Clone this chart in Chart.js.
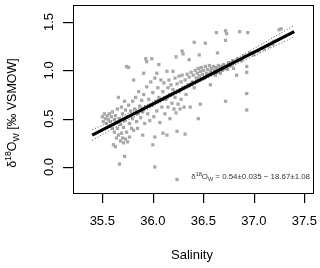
<!DOCTYPE html>
<html><head><meta charset="utf-8">
<script src="https://cdn.jsdelivr.net/npm/chart.js@4/dist/chart.umd.min.js"></script>
<style>html,body{margin:0;padding:0;background:#fff}#w{width:320px;height:268px}</style>
</head><body><div id="w"><canvas id="c" width="320" height="268"></canvas></div>
<script>
const salinity = [35.50,35.51,35.52,35.53,35.54,35.55,35.56,35.57,35.57,35.58,35.59,35.60,35.60,35.61,35.61,35.62,35.62,35.63,35.63,35.64,35.64,35.65,35.65,35.66,35.66,35.67,35.67,35.68,35.68,35.69,35.69,35.70,35.70,35.71,35.71,35.72,35.72,35.72,35.73,35.73,35.74,35.74,35.75,35.75,35.76,35.76,35.77,35.77,35.78,35.79,35.80,35.80,35.81,35.81,35.82,35.83,35.84,35.85,35.85,35.86,35.87,35.88,35.89,35.90,35.90,35.91,35.91,35.92,35.93,35.93,35.94,35.94,35.95,35.96,35.97,35.98,35.99,35.99,36.00,36.00,36.01,36.02,36.02,36.02,36.03,36.04,36.04,36.05,36.06,36.06,36.07,36.08,36.09,36.10,36.10,36.11,36.12,36.13,36.14,36.14,36.15,36.15,36.16,36.17,36.17,36.18,36.19,36.20,36.20,36.21,36.22,36.22,36.23,36.23,36.24,36.24,36.24,36.25,36.26,36.26,36.27,36.28,36.28,36.29,36.29,36.30,36.30,36.31,36.32,36.32,36.33,36.34,36.35,36.36,36.36,36.37,36.38,36.39,36.40,36.41,36.41,36.42,36.43,36.44,36.45,36.45,36.46,36.46,36.47,36.47,36.48,36.49,36.50,36.51,36.52,36.52,36.53,36.54,36.55,36.56,36.57,36.57,36.58,36.59,36.60,36.61,36.62,36.63,36.63,36.64,36.64,36.65,36.66,36.67,36.68,36.69,36.70,36.71,36.72,36.72,36.72,36.73,36.73,36.74,36.75,36.77,36.79,36.80,36.83,36.84,36.86,36.88,36.90,36.93,36.93,36.93,36.93,36.94,36.96,37.00,37.05,37.10,37.15,37.19,37.20,37.25,37.27];
const d18O = [0.52,0.47,0.55,0.50,0.45,0.53,0.49,0.42,0.55,0.47,0.52,0.40,0.57,0.44,0.23,0.49,0.36,0.21,0.53,0.30,0.46,0.60,0.40,0.33,0.72,0.03,0.50,0.27,0.44,0.35,0.62,0.30,0.55,0.25,0.41,0.11,0.68,0.48,0.29,0.59,0.36,1.04,0.26,0.52,0.64,1.03,0.31,0.45,0.58,0.40,0.68,0.50,0.90,0.38,0.60,0.72,0.47,0.55,0.40,0.78,0.63,0.51,0.69,0.33,0.57,0.97,0.75,0.45,1.12,0.62,1.09,0.83,0.55,0.70,0.48,0.88,1.12,0.64,0.23,0.77,0.52,0.00,0.31,0.92,0.68,0.97,0.58,0.82,1.06,0.72,0.46,0.90,0.62,0.78,0.35,0.87,0.55,0.70,0.99,0.33,0.82,0.62,0.90,0.75,0.50,0.85,0.66,0.99,0.80,0.60,0.92,0.72,1.14,0.56,0.37,-0.13,0.86,0.65,0.94,0.78,0.60,0.88,0.70,1.20,0.95,1.17,0.82,0.62,0.34,0.90,0.75,0.96,0.85,1.11,0.93,0.62,0.98,0.88,0.95,1.29,0.82,1.00,0.92,0.97,0.50,1.02,1.16,0.94,0.65,0.99,1.03,0.96,1.00,0.92,1.28,1.04,0.97,1.01,0.95,1.05,0.99,0.85,1.02,0.97,1.04,1.00,0.95,1.39,1.03,1.18,0.98,1.05,1.01,0.97,1.04,1.00,1.06,1.02,1.41,1.31,0.68,1.38,1.04,1.01,1.08,1.05,1.10,1.02,0.95,1.12,1.40,1.10,1.15,1.04,0.98,0.76,0.59,1.39,1.18,1.16,1.20,1.22,1.25,1.27,1.30,1.42,1.43];
const fitX = [35.4, 37.4];
const fitY = [0.33, 1.40];
const bandX = [35.4, 35.9, 36.4, 36.9, 37.4];
const upperY = [0.385, 0.625, 0.885, 1.165, 1.465];
const lowerY = [0.275, 0.570, 0.845, 1.100, 1.345];
const xTicks = [35.5, 36.0, 36.5, 37.0, 37.5];
const yTicks = [0.0, 0.5, 1.0, 1.5];
const xTitle = "Salinity";

const FONT = "Liberation Sans";
const pts = salinity.map((s,i)=>({x:s,y:d18O[i]}));
const toXY = (xs,ys)=>xs.map((x,i)=>({x:x,y:ys[i]}));

function drawRich(ctx, parts, x, y, size, align) {
  const m = parts.map(([t,k])=>{
    const fs = k==='n'?size:size*0.7;
    ctx.font = fs+"px '"+FONT+"'";
    return ctx.measureText(t).width;
  });
  const total = m.reduce((a,b)=>a+b,0);
  let cx = align==='center' ? x-total/2 : (align==='right' ? x-total : x);
  parts.forEach(([t,k],i)=>{
    const fs = k==='n'?size:size*0.7;
    ctx.font = fs+"px '"+FONT+"'";
    const dy = k==='sup'? -size*0.38 : (k==='sub'? size*0.22 : 0);
    ctx.fillText(t, cx, y+dy);
    cx += m[i];
  });
  return total;
}

const decor = {
  id:'decor',
  afterDraw(chart){
    const {ctx, chartArea:a, scales} = chart;
    ctx.save();
    ctx.setLineDash([]);
    ctx.globalAlpha = 1;
    ctx.strokeStyle = '#000'; ctx.lineWidth = 1;
    const L=Math.round(a.left), T=Math.round(a.top), R=Math.round(a.right), B=Math.round(a.bottom);
    ctx.strokeRect(L+0.5, T+0.5, R-L, B-T);
    ctx.fillStyle = '#000';
    xTicks.forEach(v=>{
      const px = Math.round(scales.x.getPixelForValue(v));
      ctx.fillRect(px, B, 1.2, 10);
    });
    yTicks.forEach(v=>{
      const py = Math.round(scales.y.getPixelForValue(v));
      ctx.fillRect(L-10, py, 10, 1.2);
    });
    ctx.font = "13px '"+FONT+"'";
    ctx.textAlign='center'; ctx.textBaseline='middle';
    xTicks.forEach(v=>{
      ctx.fillText(v.toFixed(1), scales.x.getPixelForValue(v), 221);
    });
    yTicks.forEach(v=>{
      const py = scales.y.getPixelForValue(v);
      ctx.save(); ctx.translate(49, py); ctx.rotate(-Math.PI/2);
      ctx.fillText(v.toFixed(1), 0, 0); ctx.restore();
    });
    ctx.save(); ctx.translate(16, 113); ctx.rotate(-Math.PI/2);
    ctx.textAlign='left'; ctx.textBaseline='alphabetic';
    drawRich(ctx, [['δ','n'],['18','sup'],['O','n'],['W','sub'],[' [‰ VSMOW]','n']], 0, 0, 12.5, 'center');
    ctx.restore();
    ctx.font = "13px '"+FONT+"'";
    ctx.textAlign='center'; ctx.textBaseline='middle';
    ctx.fillText(xTitle, 192, 255);
    ctx.textAlign='left'; ctx.textBaseline='alphabetic';
    ctx.fillStyle='#333';
    drawRich(ctx, [['δ','n'],['18','sup'],['O','n'],['W','sub'],[' = 0.54±0.035 − 18.67±1.08','n']], 310, 179, 7.9, 'right');
    ctx.restore();
  }
};

new Chart(document.getElementById('c'), {
  type:'scatter',
  data:{datasets:[
    {data:toXY(fitX,fitY), showLine:true, borderColor:'#000', borderWidth:3.2, pointRadius:0, order:0},
    {data:toXY(bandX,upperY), showLine:true, borderColor:'#555', borderWidth:1, borderDash:[1,2], pointRadius:0, tension:0.4, order:1},
    {data:toXY(bandX,lowerY), showLine:true, borderColor:'#555', borderWidth:1, borderDash:[1,2], pointRadius:0, tension:0.4, order:1},
    {data:pts, pointStyle:'rect', pointRadius:2.3, backgroundColor:'#a8a8a8', borderWidth:0, order:2}
  ]},
  options:{
    responsive:false, animation:false, events:[],
    layout:{padding:{left:0,right:7,top:5,bottom:0}},
    plugins:{legend:{display:false}, tooltip:{enabled:false}},
    scales:{
      x:{type:'linear', min:35.21, max:37.586,
        afterBuildTicks(s){ s.ticks = xTicks.map(v=>({value:v})); },
        afterFit(s){ s.height = 75; },
        border:{display:false},
        grid:{display:false},
        ticks:{display:false}
      },
      y:{type:'linear', min:-0.269, max:1.676,
        afterBuildTicks(s){ s.ticks = yTicks.map(v=>({value:v})); },
        afterFit(s){ s.width = 73; },
        border:{display:false},
        grid:{display:false},
        ticks:{display:false}
      }
    }
  },
  plugins:[decor]
});
</script>
</body></html>
